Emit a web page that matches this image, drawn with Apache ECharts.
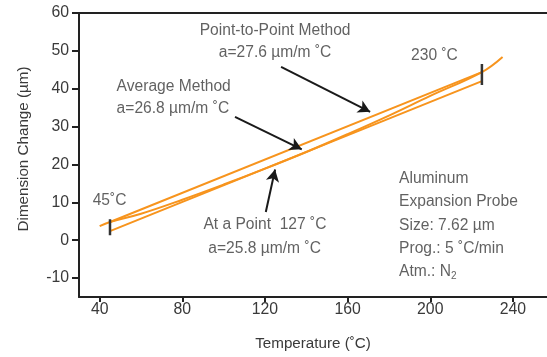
<!DOCTYPE html>
<html>
<head>
<meta charset="utf-8">
<script src="https://cdn.jsdelivr.net/npm/echarts@6/dist/echarts.min.js"></script>
<style>html,body{margin:0;padding:0;background:#fff}#c{width:547px;height:357px}</style>
</head>
<body>
<div id="c"></div>
<script>
// ---- data ----
const xTickValues = [40, 80, 120, 160, 200, 240];
const yTickValues = [-10, 0, 10, 20, 30, 40, 50, 60];
// measured expansion curve
const curveTemp = [40, 45, 60, 80, 100, 120, 140, 160, 180, 200, 225, 235];
const curveDim  = [3.7, 4.8, 7.0, 10.7, 14.7, 18.9, 23.3, 28.0, 32.9, 38.1, 44.4, 48.4];
// point-to-point chord (45 -> 230 C)
const chordTemp = [45, 225];
const chordDim  = [4.8, 44.4];
// tangent at 127 C
const tangentTemp = [45, 225];
const tangentDim  = [2.4, 42.0];
// end markers
const markerLeftTemp = [45, 45];
const markerLeftDim = [1.3, 5.5];
const markerRightTemp = [225, 225];
const markerRightDim = [41.0, 46.5];

const FONT = "'Liberation Sans', Arial, sans-serif";
const TXT = '#3a3a3a';
const ORANGE = '#f7941d';
const AX = '#222';

// annotation anchors (data coords) and arrows
const notes = [
  { at: [124.9, 55.2], text: 'Point-to-Point Method', align: 'center' },
  { at: [124.9, 49.4], text: 'a=27.6 µm/m ˚C', align: 'center' },
  { at: [48.2, 40.65], text: 'Average Method', align: 'left' },
  { at: [48.2, 34.77], text: 'a=26.8 µm/m ˚C', align: 'left' },
  { at: [190.7, 48.6], text: '230 ˚C', align: 'left' },
  { at: [36.6, 10.37], text: '45˚C', align: 'left' },
  { at: [90.2, 4.14], text: 'At a Point  127 ˚C', align: 'left' },
  { at: [92.6, -2.19], text: 'a=25.8 µm/m ˚C', align: 'left' },
  { at: [184.9, 16.29], text: 'Aluminum', align: 'left' },
  { at: [184.9, 10.11], text: 'Expansion Probe', align: 'left' },
  { at: [184.9, 3.96], text: 'Size: 7.62 µm', align: 'left' },
  { at: [184.9, -2.19], text: 'Prog.: 5 ˚C/min', align: 'left' },
  { at: [184.9, -8.37], text: 'Atm.: N{sub|2}', align: 'left' }
];
const arrows = [
  [[127.8, 45.75], [170.9, 33.9]],
  [[105.5, 32.55], [137.8, 24.0]],
  [[120.4, 7.47], [124.9, 18.66]]
];

const zip = (a, b) => a.map((v, i) => [v, b[i]]);

const chart = echarts.init(document.getElementById('c'), null, { renderer: 'canvas' });
chart.setOption({
  animation: false,
  backgroundColor: '#fff',
  grid: { left: 79, right: 0, top: 13, bottom: 60 },
  xAxis: [{
    type: 'value', min: 30, max: 256.5,
    name: 'Temperature (˚C)', nameLocation: 'middle', nameGap: 39,
    nameTextStyle: { fontFamily: FONT, fontSize: 15.2, color: TXT },
    axisLine: { show: true, onZero: false, lineStyle: { color: AX, width: 2 } },
    axisTick: { show: true, customValues: xTickValues, length: 5, lineStyle: { color: AX, width: 2 } },
    axisLabel: { customValues: xTickValues, fontFamily: FONT, fontSize: 15.8, color: TXT, margin: 5 },
    splitLine: { show: false }
  }, {
    type: 'value', min: 30, max: 256.5, position: 'top',
    axisLine: { show: true, onZero: false, lineStyle: { color: AX, width: 2 } },
    axisTick: { show: false }, axisLabel: { show: false }, splitLine: { show: false }
  }],
  yAxis: {
    type: 'value', min: -15, max: 60,
    name: 'Dimension Change (µm)', nameLocation: 'middle', nameGap: 48,
    nameTextStyle: { fontFamily: FONT, fontSize: 15.2, color: TXT, padding: [0, 0, 0, 12] },
    axisLine: { show: true, onZero: false, lineStyle: { color: AX, width: 2 } },
    axisTick: { show: true, customValues: yTickValues, length: 7, lineStyle: { color: AX, width: 2 } },
    axisLabel: { customValues: yTickValues, fontFamily: FONT, fontSize: 15.8, color: TXT, margin: 10 },
    splitLine: { show: false }
  },
  series: [
    { type: 'line', data: zip(curveTemp, curveDim), smooth: 0.4, symbol: 'none',
      lineStyle: { color: ORANGE, width: 2 } },
    { type: 'line', data: zip(chordTemp, chordDim), symbol: 'none',
      lineStyle: { color: ORANGE, width: 2 } },
    { type: 'line', data: zip(tangentTemp, tangentDim), symbol: 'none',
      lineStyle: { color: ORANGE, width: 2 },
      markLine: {
        silent: true, symbol: ['none', 'arrow'], symbolSize: [10, 12],
        label: { show: false },
        lineStyle: { color: '#1a1a1a', width: 2, type: 'solid' },
        data: arrows.map(a => [{ coord: a[0] }, { coord: a[1] }])
      } },
    { type: 'line', data: zip(markerLeftTemp, markerLeftDim), symbol: 'none',
      lineStyle: { color: '#333', width: 2.5 } },
    { type: 'line', data: zip(markerRightTemp, markerRightDim), symbol: 'none',
      lineStyle: { color: '#333', width: 2.5 } },
    { type: 'scatter', symbolSize: 0, silent: true,
      data: notes.map(n => ({
        value: n.at,
        label: {
          show: true, position: [0, 0], formatter: n.text, align: n.align, verticalAlign: 'middle',
          fontFamily: FONT, fontSize: 15.6, color: TXT,
          rich: { sub: { fontFamily: FONT, fontSize: 10, color: TXT, verticalAlign: 'bottom', padding: [9, 0, 0, 0] } }
        }
      })) }
  ]
});
</script>
</body>
</html>
